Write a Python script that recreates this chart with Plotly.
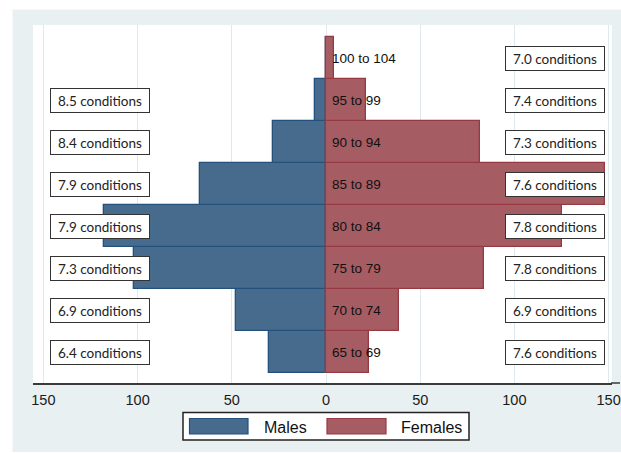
import plotly.graph_objects as go

# ---------------- data ----------------
age_groups = ["65 to 69", "70 to 74", "75 to 79", "80 to 84",
              "85 to 89", "90 to 94", "95 to 99", "100 to 104"]
males = [30, 48, 102, 118, 67, 28, 6, 0]
females = [23, 38.5, 84, 125, 148, 82, 21, 4]
male_conditions = ["6.4", "6.9", "7.3", "7.9", "7.9", "8.4", "8.5", None]
female_conditions = ["7.6", "6.9", "7.8", "7.8", "7.6", "7.3", "7.4", "7.0"]
tick_values = [-150, -100, -50, 0, 50, 100, 150]
tick_labels = ["150", "100", "50", "0", "50", "100", "150"]

# ---------------- style ----------------
W, H = 621, 453
L, R, T, B = 33, 612, 25, 383          # plot area in pixels
BG = "#E8F0F2"
GRID = "#DDE9EC"
BLUE, BLUE_LINE = "#476B8D", "#24507C"
RED, RED_LINE = "#A65C63", "#973943"
TXT = "Liberation Sans, Arial, sans-serif"
BOXFONT = "Lato, Carlito, Calibri, sans-serif"


def px(xp):
    return (xp - L) / (R - L)


def py(yp):
    return (B - yp) / (B - T)


ypos = list(range(len(age_groups)))
neg_males = [-v for v in males]

fig = go.Figure()
fig.add_trace(go.Bar(
    y=ypos, x=neg_males, orientation="h", name="Males", width=1,
    marker=dict(color=BLUE, line=dict(color=BLUE_LINE, width=1.3)),
    showlegend=False, hoverinfo="skip"))
fig.add_trace(go.Bar(
    y=ypos, x=females, orientation="h", name="Females", width=1,
    marker=dict(color=RED, line=dict(color=RED_LINE, width=1.3)),
    showlegend=False, hoverinfo="skip"))

annotations = []
for i, lab in enumerate(age_groups):
    annotations.append(dict(
        x=0, y=i, xref="x", yref="y", text=lab, showarrow=False,
        xanchor="left", yanchor="middle", xshift=4,
        font=dict(family=TXT, size=13.5, color="#111111")))

for i, c in enumerate(male_conditions):
    if c is None:
        continue
    annotations.append(dict(
        x=px(100), y=i, xref="paper", yref="y", text=f"{c} conditions",
        showarrow=False, xanchor="center", yanchor="middle",
        width=98, height=23, bgcolor="white", bordercolor="#333333",
        borderwidth=1, borderpad=0,
        font=dict(family=BOXFONT, size=13.5, color="#222222")))

for i, c in enumerate(female_conditions):
    annotations.append(dict(
        x=px(555), y=i, xref="paper", yref="y", text=f"{c} conditions",
        showarrow=False, xanchor="center", yanchor="middle",
        width=98, height=23, bgcolor="white", bordercolor="#333333",
        borderwidth=1, borderpad=0,
        font=dict(family=BOXFONT, size=13.5, color="#222222")))

# custom legend
annotations.append(dict(x=px(261.5), y=py(427), xref="paper", yref="paper",
                        text="Males", showarrow=False, xanchor="left",
                        yanchor="middle",
                        font=dict(family=TXT, size=16, color="#111111")))
annotations.append(dict(x=px(399), y=py(427), xref="paper", yref="paper",
                        text="Females", showarrow=False, xanchor="left",
                        yanchor="middle",
                        font=dict(family=TXT, size=16, color="#111111")))

shapes = [
    # white outer strips (left / top / bottom)
    dict(type="rect", xref="paper", yref="paper", x0=px(-5), x1=px(12.5),
         y0=py(-5), y1=py(460), fillcolor="white", line_width=0, layer="below"),
    dict(type="rect", xref="paper", yref="paper", x0=px(-5), x1=px(630),
         y0=py(-5), y1=py(9.5), fillcolor="white", line_width=0, layer="below"),
    dict(type="rect", xref="paper", yref="paper", x0=px(-5), x1=px(630),
         y0=py(452), y1=py(460), fillcolor="white", line_width=0, layer="below"),
    # axis line extension to the right
    dict(type="line", xref="paper", yref="paper", x0=px(611), x1=px(620),
         y0=0, y1=0, line=dict(color="#3A3A3A", width=1.5)),
    # legend frame and swatches
    dict(type="rect", xref="paper", yref="paper", x0=px(183), x1=px(469),
         y0=py(440), y1=py(412.5), fillcolor="white",
         line=dict(color="#222222", width=1.5)),
    dict(type="rect", xref="paper", yref="paper", x0=px(189.5), x1=px(248),
         y0=py(434), y1=py(418.5), fillcolor=BLUE,
         line=dict(color=BLUE_LINE, width=1.2)),
    dict(type="rect", xref="paper", yref="paper", x0=px(327), x1=px(386),
         y0=py(434), y1=py(418.5), fillcolor=RED,
         line=dict(color=RED_LINE, width=1.2)),
]

x_scale = 1.884  # px per unit
x_lo = -(326 - L) / x_scale
x_hi = (R - 326) / x_scale
y_scale = 42.0
y_lo = -(B - 352) / y_scale
y_hi = 7 + (58 - T) / y_scale

fig.update_layout(
    width=W, height=H, autosize=False,
    margin=dict(l=L, r=W - R, t=T, b=H - B, pad=0, autoexpand=False),
    paper_bgcolor=BG, plot_bgcolor="white",
    barmode="overlay", bargap=0,
    showlegend=False,
    annotations=annotations, shapes=shapes,
    xaxis=dict(range=[x_lo, x_hi], tickmode="array", tickvals=tick_values,
               ticktext=tick_labels, showgrid=True, gridcolor=GRID,
               gridwidth=1, zeroline=False, showline=True, automargin=False,
               linecolor="#3A3A3A", linewidth=1.5, ticks="outside",
               ticklen=3, tickcolor="rgba(0,0,0,0)",
               tickfont=dict(family=TXT, size=14.5, color="#1A1A1A"),
               fixedrange=True),
    yaxis=dict(range=[y_lo, y_hi], showgrid=False, zeroline=False,
               automargin=False,
               showticklabels=False, showline=False, fixedrange=True),
)

fig.write_html(
    "out.html",
    config={"displayModeBar": False},
    post_script="document.body.style.margin='0';"
                "document.body.style.overflow='hidden';",
)
